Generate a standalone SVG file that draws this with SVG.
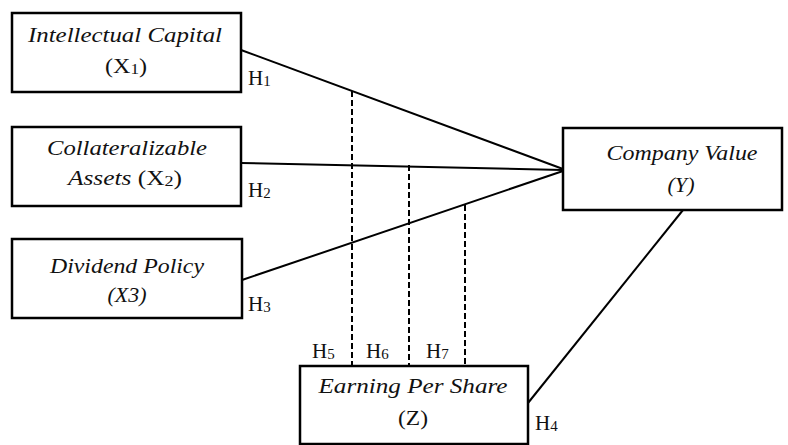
<svg xmlns="http://www.w3.org/2000/svg" width="788" height="445" viewBox="0 0 788 445">
<style>
.box{fill:#fff;stroke:#000;stroke-width:2.5}
.t{font-family:"Liberation Serif","Times New Roman",serif;font-size:21px;fill:#111;text-anchor:middle}
.i{font-style:italic}
.h{font-family:"Liberation Serif","Times New Roman",serif;font-size:21px;fill:#111}
.s{font-size:15px}
.ln{stroke:#000;stroke-width:2;fill:none}
.dash{stroke:#000;stroke-width:2;stroke-dasharray:6,3;fill:none}
</style>
<rect width="788" height="445" fill="#fff"/>
<g id="connectors">
<line class="ln" x1="241" y1="50" x2="563" y2="169"/>
<line class="ln" x1="241" y1="163" x2="563" y2="170"/>
<line class="ln" x1="242" y1="280" x2="563" y2="171"/>
<line class="ln" x1="528" y1="403" x2="683" y2="210"/>
<line class="dash" x1="352" y1="91" x2="352" y2="366"/>
<line class="dash" x1="409" y1="165" x2="409" y2="366"/>
<line class="dash" x1="465" y1="205" x2="465" y2="366"/>
<text class="h" x="248" y="85">H<tspan class="s" dy="1">1</tspan></text>
<text class="h" x="248" y="197">H<tspan class="s" dy="1">2</tspan></text>
<text class="h" x="248" y="311">H<tspan class="s" dy="1">3</tspan></text>
<text class="h" x="535" y="430">H<tspan class="s" dy="1">4</tspan></text>
<text class="h" x="312" y="358">H<tspan class="s" dy="1">5</tspan></text>
<text class="h" x="366" y="358">H<tspan class="s" dy="1">6</tspan></text>
<text class="h" x="426" y="358">H<tspan class="s" dy="1">7</tspan></text>
</g>
<g id="node-x1">
<rect class="box" x="12" y="13" width="229" height="79"/>
<text class="t i" x="125" y="42" textLength="194" lengthAdjust="spacingAndGlyphs">Intellectual Capital</text>
<text class="t" x="126" y="73" textLength="42" lengthAdjust="spacingAndGlyphs">(X<tspan class="s" dy="1">1</tspan><tspan dy="-1">)</tspan></text>
</g>
<g id="node-x2">
<rect class="box" x="12" y="127" width="229" height="79"/>
<text class="t i" x="127" y="155" textLength="160" lengthAdjust="spacingAndGlyphs">Collateralizable</text>
<text class="t" x="125" y="185" textLength="114" lengthAdjust="spacingAndGlyphs"><tspan class="i">Assets</tspan> (X<tspan class="s" dy="1">2</tspan><tspan dy="-1">)</tspan></text>
</g>
<g id="node-x3">
<rect class="box" x="12" y="239" width="230" height="79"/>
<text class="t i" x="127" y="273" textLength="154" lengthAdjust="spacingAndGlyphs">Dividend Policy</text>
<text class="t i" x="127" y="302" textLength="39" lengthAdjust="spacingAndGlyphs">(X3)</text>
</g>
<g id="node-y">
<rect class="box" x="563" y="128" width="219" height="82"/>
<text class="t i" x="682" y="160" textLength="151" lengthAdjust="spacingAndGlyphs">Company Value</text>
<text class="t i" x="681" y="192" textLength="27" lengthAdjust="spacingAndGlyphs">(Y)</text>
</g>
<g id="node-z">
<rect class="box" x="300" y="366" width="228" height="78"/>
<text class="t i" x="413" y="393" textLength="189" lengthAdjust="spacingAndGlyphs">Earning Per Share</text>
<text class="t" x="413" y="425" textLength="30" lengthAdjust="spacingAndGlyphs">(Z)</text>
</g>
</svg>
